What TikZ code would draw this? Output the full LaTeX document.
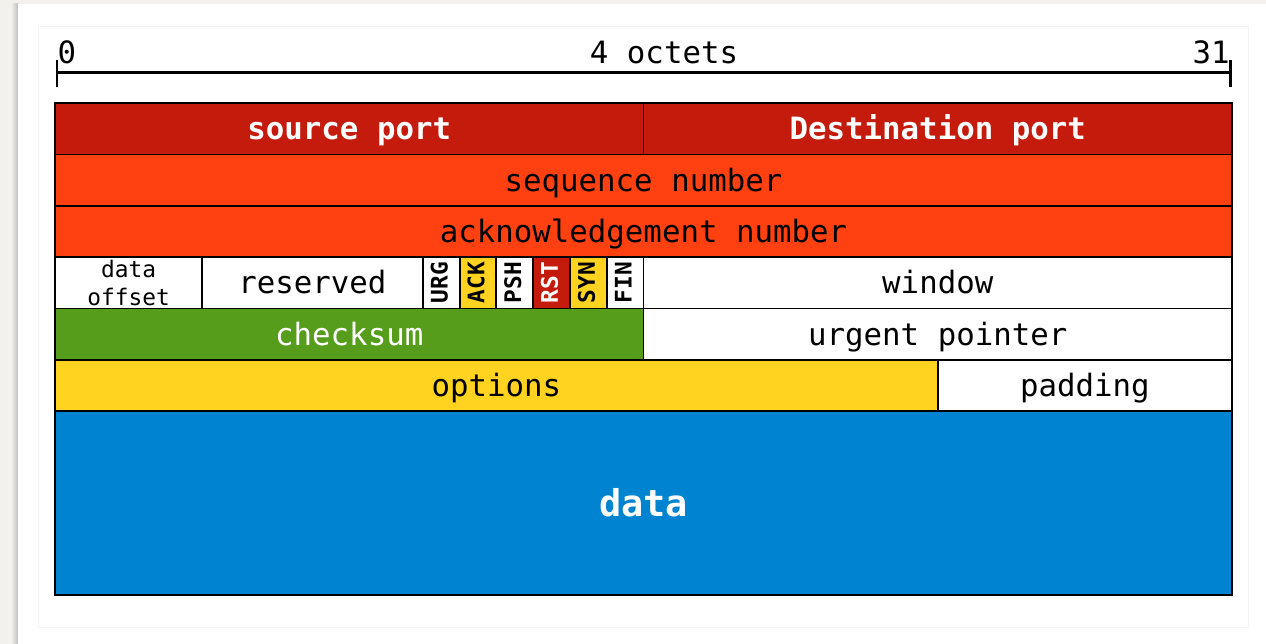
\documentclass[tikz,border=0pt]{standalone}
\usepackage{fontspec}
\setmainfont{DejaVu Sans Mono}
\usetikzlibrary{calc}
\definecolor{bggray}{HTML}{F2F1EC}
\definecolor{hdrred}{HTML}{C51B0D}
\definecolor{seqorange}{HTML}{FF4111}
\definecolor{chkgreen}{HTML}{579D1C}
\definecolor{optyellow}{HTML}{FFD320}
\definecolor{datablue}{HTML}{0084D1}
\definecolor{faint}{HTML}{F3F3F3}
\tikzset{
  cell/.style={draw=black, line width=1.1pt},
  lbl/.style={inner sep=0pt, yshift=-0.1cm, font=\fontsize{17.5}{20}\selectfont, text height=0.73em, text depth=0.03em},
  hdr/.style={lbl, text=white, font=\bfseries\fontsize{17.5}{20}\selectfont},
  flag/.style={inner sep=0pt, rotate=90, font=\bfseries\fontsize{13}{14}\selectfont, text height=0.73em, text depth=0pt},
}
\begin{document}
\begin{tikzpicture}[x=0.02cm,y=-0.02cm]
\useasboundingbox (0,0) rectangle (1266,644);
% background panel
\fill[bggray] (0,0) rectangle (1266,644);
\shade[left color=bggray, right color=black!25] (11,4) rectangle (18,644);
\fill[white] (18,4) rectangle (1266,644);
\draw[faint, line width=0.4pt] (38,26) rectangle (1248,627);
% scale bar
\coordinate (sl) at (57,73);
\coordinate (sr) at (1230,73);
\draw[line width=1.7pt] (sl) -- (sr);
\draw[line width=1.7pt] (57,60) -- (57,87);
\draw[line width=1.7pt] (1230,60) -- (1230,87);
\node[lbl] (zero) at (67,52) {0};
\node[lbl] (octets) at (664,52) {4 octets};
\node[lbl] (thirtyone) at (1211,52) {31};
% fields
\def\b#1{55+#1*36.78125}
% row 1
\draw[cell, fill=hdrred] (\b{0},103) rectangle (\b{16},154.5);
\node[hdr] (src) at ($(\b{0},103)!.5!(\b{16},154.5)$) {source port};
\draw[cell, fill=hdrred] (\b{16},103) rectangle (\b{32},154.5);
\node[hdr] (dst) at ($(\b{16},103)!.5!(\b{32},154.5)$) {Destination port};
% row 2
\draw[cell, fill=seqorange] (\b{0},154.5) rectangle (\b{32},206);
\node[lbl] (seq) at ($(\b{0},154.5)!.5!(\b{32},206)$) {sequence number};
% row 3
\draw[cell, fill=seqorange] (\b{0},206) rectangle (\b{32},257);
\node[lbl] (ack) at ($(\b{0},206)!.5!(\b{32},257)$) {acknowledgement number};
% row 4
\draw[cell, fill=white] (\b{0},257) rectangle (\b{4},308.5);
\node[inner sep=0pt, align=center, font=\fontsize{13}{15.8}\selectfont] (doff) at ($(\b{0},257)!.5!(\b{4},308.5)$) {data\\offset};
\draw[cell, fill=white] (\b{4},257) rectangle (\b{10},308.5);
\node[lbl] (res) at ($(\b{4},257)!.5!(\b{10},308.5)$) {reserved};
\draw[cell, fill=white] (\b{10},257) rectangle (\b{11},308.5);
\node[flag] (urg) at ($(\b{10},257)!.5!(\b{11},308.5)$) {URG};
\draw[cell, fill=optyellow] (\b{11},257) rectangle (\b{12},308.5);
\node[flag] (fack) at ($(\b{11},257)!.5!(\b{12},308.5)$) {ACK};
\draw[cell, fill=white] (\b{12},257) rectangle (\b{13},308.5);
\node[flag] (psh) at ($(\b{12},257)!.5!(\b{13},308.5)$) {PSH};
\draw[cell, fill=hdrred] (\b{13},257) rectangle (\b{14},308.5);
\node[flag, text=white] (rst) at ($(\b{13},257)!.5!(\b{14},308.5)$) {RST};
\draw[cell, fill=optyellow] (\b{14},257) rectangle (\b{15},308.5);
\node[flag] (syn) at ($(\b{14},257)!.5!(\b{15},308.5)$) {SYN};
\draw[cell, fill=white] (\b{15},257) rectangle (\b{16},308.5);
\node[flag] (fin) at ($(\b{15},257)!.5!(\b{16},308.5)$) {FIN};
\draw[cell, fill=white] (\b{16},257) rectangle (\b{32},308.5);
\node[lbl] (win) at ($(\b{16},257)!.5!(\b{32},308.5)$) {window};
% row 5
\draw[cell, fill=chkgreen] (\b{0},308.5) rectangle (\b{16},360);
\node[lbl, text=white] (chk) at ($(\b{0},308.5)!.5!(\b{16},360)$) {checksum};
\draw[cell, fill=white] (\b{16},308.5) rectangle (\b{32},360);
\node[lbl] (urgp) at ($(\b{16},308.5)!.5!(\b{32},360)$) {urgent pointer};
% row 6
\draw[cell, fill=optyellow] (\b{0},360) rectangle (\b{24},411);
\node[lbl] (opt) at ($(\b{0},360)!.5!(\b{24},411)$) {options};
\draw[cell, fill=white] (\b{24},360) rectangle (\b{32},411);
\node[lbl] (pad) at ($(\b{24},360)!.5!(\b{32},411)$) {padding};
% data
\draw[cell, fill=datablue] (\b{0},411) rectangle (\b{32},595);
\node[inner sep=0pt, yshift=-0.14cm, text=white, font=\bfseries\fontsize{21}{24}\selectfont, text height=0.73em, text depth=0pt] (data) at ($(\b{0},411)!.5!(\b{32},595)$) {data};
% outer border
\draw[line width=1.5pt] (\b{0},103) rectangle (\b{32},595);
\end{tikzpicture}
\end{document}
